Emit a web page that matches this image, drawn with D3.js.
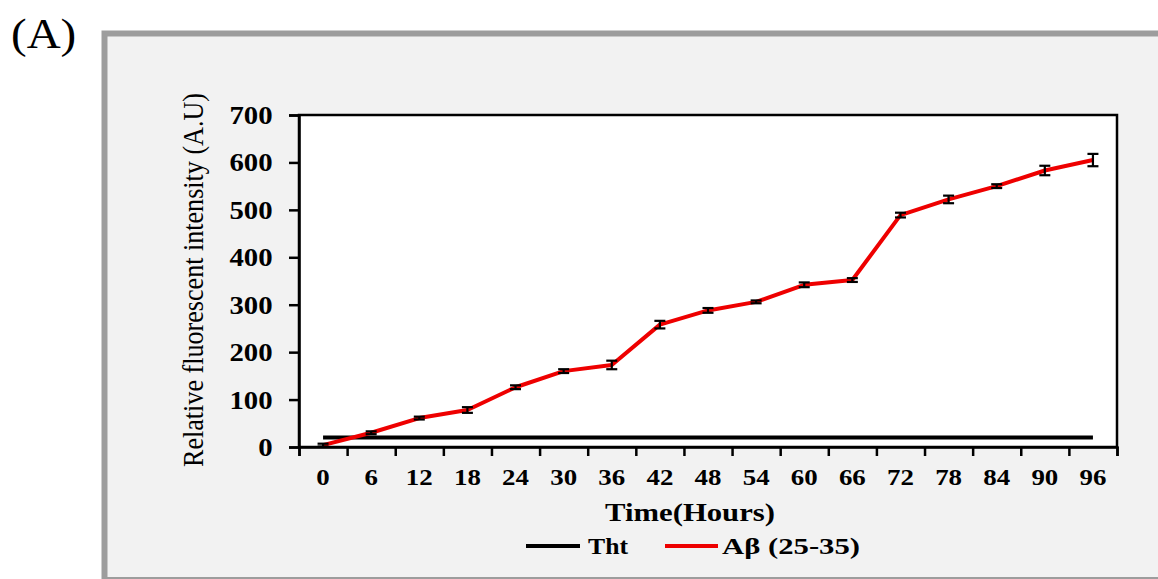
<!DOCTYPE html>
<html>
<head>
<meta charset="utf-8">
<script src="https://cdn.jsdelivr.net/npm/d3@7"></script>
<style>
  html, body { margin: 0; padding: 0; background: #ffffff; }
  svg { display: block; }
  text { font-family: "Liberation Serif", "Times New Roman", serif; fill: #000; }
</style>
</head>
<body>
<svg id="chart" width="1158" height="579"></svg>
<script>
// Time points (hours) on the category axis
const hours = [0, 6, 12, 18, 24, 30, 36, 42, 48, 54, 60, 66, 72, 78, 84, 90, 96];
// Aβ (25-35) fluorescence, mean and error
const abMean = [4, 30, 61, 78, 126, 160, 173, 258, 288, 306, 342, 352, 489, 522, 550, 583, 605];
const abErr  = [3, 3, 3, 6, 4, 4, 9, 8, 5, 3, 5, 4, 5, 8, 4, 10, 13];
// ThT baseline
const thtMean = [20, 20, 20, 20, 20, 20, 20, 20, 20, 20, 20, 20, 20, 20, 20, 20, 20];
// Y axis ticks
const yTicks = [0, 100, 200, 300, 400, 500, 600, 700];

const svg = d3.select("#chart");
const FONT = "Liberation Serif, Times New Roman, serif";

// Outer panel with grey frame
svg.append("rect")
  .attr("x", 104.5).attr("y", 33.5)
  .attr("width", 1100).attr("height", 546.5)
  .attr("fill", "#f2f2f2")
  .attr("stroke", "#9d9d9d")
  .attr("stroke-width", 6);

// Panel letter
svg.append("text")
  .attr("transform", "translate(11,48) scale(1.12,1)")
  .attr("font-size", 42)
  .text("(A)");

const plot = { left: 299, right: 1117, top: 115, bottom: 447 };

const x = d3.scaleBand()
  .domain(hours)
  .range([plot.left, plot.right])
  .paddingInner(0).paddingOuter(0);
const xc = d => x(d) + x.bandwidth() / 2;

const y = d3.scaleLinear()
  .domain([0, 700])
  .range([plot.bottom, plot.top]);

// Plot area
svg.append("rect")
  .attr("x", plot.left).attr("y", plot.top)
  .attr("width", plot.right - plot.left)
  .attr("height", plot.bottom - plot.top)
  .attr("fill", "#ffffff")
  .attr("stroke", "#000")
  .attr("stroke-width", 2.5);

// Y axis
const yAxis = svg.append("g")
  .attr("transform", `translate(${plot.left},0)`)
  .call(d3.axisLeft(y).tickValues(yTicks).tickSize(10).tickPadding(13).tickFormat(d3.format("d")));
yAxis.select(".domain").attr("stroke-width", 2.5);
yAxis.selectAll(".tick line").attr("stroke-width", 2.5);
yAxis.selectAll(".tick text")
  .attr("font-size", 25)
  .attr("font-weight", "bold")
  .attr("font-family", FONT)
  .attr("dy", "0.34em")
  .attr("transform", "scale(1.15,1)");

// X axis: tick marks on category boundaries
const xBound = d3.scaleLinear().domain([0, hours.length]).range([plot.left, plot.right]);
const xTickAxis = svg.append("g")
  .attr("transform", `translate(0,${plot.bottom})`)
  .call(d3.axisBottom(xBound).ticks(hours.length).tickSize(9).tickFormat(""));
xTickAxis.select(".domain").attr("stroke-width", 2.5);
xTickAxis.selectAll(".tick line").attr("stroke-width", 2.5);

// X axis: labels centred in each category
const xLabelAxis = svg.append("g")
  .attr("transform", `translate(0,${plot.bottom})`)
  .call(d3.axisBottom(x).tickSize(0).tickPadding(22));
xLabelAxis.select(".domain").remove();
xLabelAxis.selectAll(".tick text")
  .attr("font-size", 23)
  .attr("font-weight", "bold")
  .attr("font-family", FONT)
  .attr("dy", "0.68em")
  .attr("transform", "scale(1.17,1)");

// ThT line
const line = d3.line().x((d, i) => xc(hours[i])).y(d => y(d));
svg.append("path")
  .datum(thtMean)
  .attr("d", line)
  .attr("fill", "none")
  .attr("stroke", "#000")
  .attr("stroke-width", 4);

// Aβ line
svg.append("path")
  .datum(abMean)
  .attr("d", line)
  .attr("fill", "none")
  .attr("stroke", "#ee0000")
  .attr("stroke-width", 4)
  .attr("stroke-linejoin", "round");

// Error bars
const eb = svg.append("g").attr("stroke", "#000").attr("stroke-width", 2.2);
hours.forEach((h, i) => {
  const cx = xc(h), m = abMean[i], e = abErr[i];
  eb.append("line").attr("x1", cx).attr("x2", cx).attr("y1", y(m - e)).attr("y2", y(m + e));
  eb.append("line").attr("x1", cx - 5.5).attr("x2", cx + 5.5).attr("y1", y(m - e)).attr("y2", y(m - e));
  eb.append("line").attr("x1", cx - 5.5).attr("x2", cx + 5.5).attr("y1", y(m + e)).attr("y2", y(m + e));
});

// Axis titles
svg.append("text")
  .attr("transform", "translate(203,280) scale(1.2,1) rotate(-90)")
  .attr("text-anchor", "middle")
  .attr("font-size", 25)
  .attr("textLength", 374)
  .attr("lengthAdjust", "spacingAndGlyphs")
  .text("Relative fluorescent intensity (A.U)");

svg.append("text")
  .attr("x", 605).attr("y", 521)
  .attr("font-size", 26)
  .attr("font-weight", "bold")
  .attr("textLength", 170)
  .attr("lengthAdjust", "spacingAndGlyphs")
  .text("Time(Hours)");

// Legend
const legend = [
  { name: "Tht", color: "#000", x1: 526, x2: 580, tx: 588, tw: 40 },
  { name: "Aβ (25-35)", color: "#ee0000", x1: 665, x2: 718, tx: 722, tw: 138 }
];
const lg = svg.append("g");
legend.forEach(d => {
  lg.append("line")
    .attr("x1", d.x1).attr("x2", d.x2)
    .attr("y1", 546).attr("y2", 546)
    .attr("stroke", d.color).attr("stroke-width", 4);
  lg.append("text")
    .attr("x", d.tx).attr("y", 554)
    .attr("font-size", 24)
    .attr("font-weight", "bold")
    .attr("textLength", d.tw)
    .attr("lengthAdjust", "spacingAndGlyphs")
    .text(d.name);
});
</script>
</body>
</html>
